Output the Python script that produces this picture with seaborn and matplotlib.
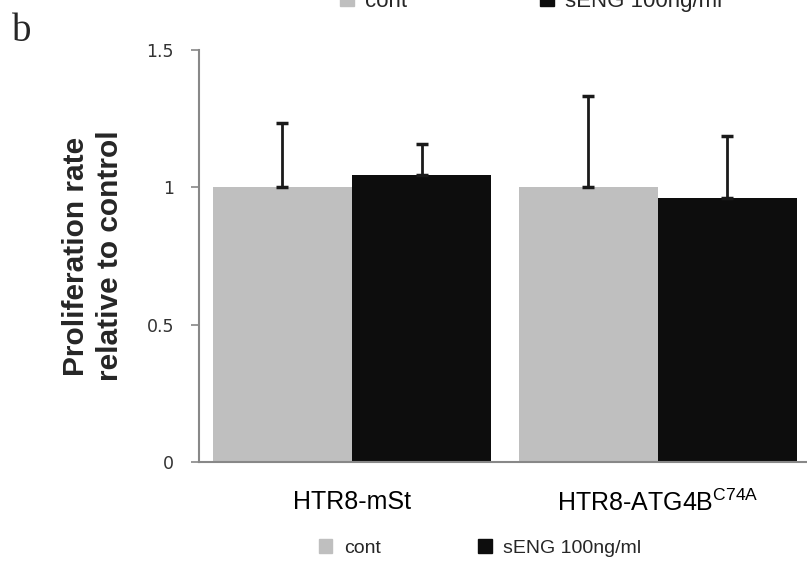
import pandas as pd
import matplotlib
matplotlib.use("Agg")
import matplotlib.pyplot as plt
from matplotlib.patches import Patch
import seaborn as sns

# datos
cells = ["HTR8-mSt", "HTR8-ATG4B$^{\\mathrm{C74A}}$"]
treatments = ["cont", "sENG 100ng/ml"]
cont_mean = [1.0, 1.0]
seng_mean = [1.045, 0.961]
cont_err = [0.234, 0.332]
seng_err = [0.113, 0.226]
colors = ["#bfbfbf", "#0d0d0d"]

df = pd.DataFrame({
    "cell": cells * 2,
    "treatment": [treatments[0]] * 2 + [treatments[1]] * 2,
    "value": cont_mean + seng_mean,
})
errs = cont_err + seng_err

sns.set_theme(style="white")
narrow = ["Liberation Sans", "DejaVu Sans"]
plt.rcParams["mathtext.fontset"] = "custom"
plt.rcParams["mathtext.rm"] = "Liberation Sans"

fig = plt.figure(figsize=(8.07, 5.67), dpi=100)
ax = fig.add_axes([0.2466, 0.1852, 0.758, 0.7266])

sns.barplot(data=df, x="cell", y="value", hue="treatment", palette=colors,
            width=0.91, errorbar=None, saturation=1, linewidth=0, ax=ax)
ax.get_legend().remove()

# barras de error (solo hacia arriba)
bars = [p for p in ax.patches if p.get_height() > 0][:4]
for p, e in zip(bars, errs):
    xc = p.get_x() + p.get_width() / 2
    ax.errorbar(xc, p.get_height(), yerr=[[0], [e]], fmt="none",
                ecolor="#1a1a1a", elinewidth=2, capsize=4.5, capthick=2.5)

ax.set_ylim(0, 1.5)
ax.set_xlim(-0.5, 1.5)
ax.set_yticks([0, 0.5, 1, 1.5])
ax.set_yticklabels(["0", "0.5", "1", "1.5"], fontsize=12.5, color="#333333",
                   family=["Verdana", "DejaVu Sans"])
ax.set_xticks([0, 1])
ax.set_xticklabels(cells, fontsize=18, family=narrow, color="black")
ax.set_xticks([-0.5, 0.5, 1.5], minor=True)
ax.tick_params(axis="x", which="major", length=0, pad=20)
ax.tick_params(axis="x", which="minor", length=6, width=1.2, color="#888888",
               direction="out")
ax.tick_params(axis="y", length=6, width=1.2, color="#888888", direction="out",
               left=True, pad=12)

for s in ["top", "right"]:
    ax.spines[s].set_visible(False)
for s in ["left", "bottom"]:
    ax.spines[s].set_color("#888888")
    ax.spines[s].set_linewidth(1.5)

ax.set_xlabel("")
ax.set_ylabel("Proliferation rate\nrelative to control", fontsize=21.5,
              fontweight="bold", family=["Liberation Sans", "DejaVu Sans"],
              linespacing=1.3, labelpad=16)

fig.text(0.015, 0.945, "b", fontsize=28, family=["Liberation Serif", "DejaVu Serif"],
         va="center", ha="left")

handles = [Patch(color=c) for c in colors]
fig.legend(handles, treatments, loc="center", bbox_to_anchor=(0.595, 0.034),
           ncol=2, frameon=False, prop={"family": narrow, "size": 14},
           handlelength=0.7, handleheight=0.7, handletextpad=0.6,
           columnspacing=5.0)
# leyenda repetida recortada en el borde superior
fig.legend(handles, treatments, loc="center", bbox_to_anchor=(0.658, 0.998),
           ncol=2, frameon=False, prop={"family": narrow, "size": 16},
           handlelength=0.6, handleheight=0.6, handletextpad=0.5,
           columnspacing=6.0)

fig.savefig("out.png", dpi=100)
